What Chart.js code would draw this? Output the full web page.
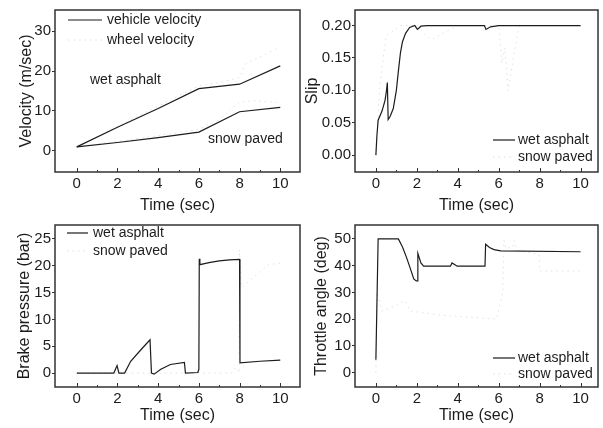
<!DOCTYPE html>
<html>
<head>
<meta charset="utf-8">
<script src="https://cdn.jsdelivr.net/npm/chart.js@4.4.0/dist/chart.umd.min.js"></script>
<style>
  body { margin: 0; background: #fff; }
  .panel { position: absolute; }
</style>
</head>
<body>
<div class="panel" style="left:0;top:0"><canvas id="velChart" width="301" height="215"></canvas></div>
<div class="panel" style="left:300px;top:0"><canvas id="slipChart" width="303" height="215"></canvas></div>
<div class="panel" style="left:0;top:215px"><canvas id="brakeChart" width="301" height="213"></canvas></div>
<div class="panel" style="left:300px;top:215px"><canvas id="throttleChart" width="303" height="213"></canvas></div>
<script>
// shared x axis
const xTicks = [0, 2, 4, 6, 8, 10];

// velocity (m/sec)
const velTime = [0, 2, 4, 6, 8, 10];
const vehicleWet = [1, 5.9, 10.6, 15.6, 16.7, 21.3];
const vehicleSnow = [1, 2.1, 3.3, 4.7, 9.8, 10.9];
const wheelWetTime = [0, 2, 4, 6, 7, 8, 8.3, 9.3, 10];
const wheelWet = [1, 6.1, 11.2, 16.3, 17.1, 18.4, 21.8, 24.3, 26];
const wheelSnowTime = [0, 2, 4, 6, 7, 8, 8.7, 10];
const wheelSnow = [1, 2.4, 3.8, 5.4, 7.8, 12.2, 12.6, 12.1];
const velTicks = [0, 10, 20, 30];

// slip
const slipWetTime = [0, 0.05, 0.11, 0.3, 0.45, 0.52, 0.56, 0.6, 0.7, 0.85, 1.0, 1.1, 1.2, 1.3, 1.45, 1.65, 1.9, 2.03, 2.2, 2.5, 5.3, 5.38, 5.6, 6, 10];
const slipWet = [0, 0.03, 0.054, 0.068, 0.085, 0.1, 0.112, 0.055, 0.06, 0.072, 0.1, 0.13, 0.158, 0.175, 0.188, 0.197, 0.2, 0.194, 0.199, 0.2, 0.2, 0.194, 0.198, 0.2, 0.2];
const slipSnowTime = [0, 0.2, 0.5, 1.2, 2, 2.7, 4, 6, 6.16, 6.3, 6.46, 6.75, 7, 10];
const slipSnow = [0, 0.111, 0.184, 0.2, 0.2, 0.178, 0.2, 0.2, 0.142, 0.166, 0.099, 0.157, 0.2, 0.2];
const slipTicks = [0, 0.05, 0.10, 0.15, 0.20];

// brake pressure (bar)
const brakeWetTime = [0, 1.82, 1.98, 2.07, 2.35, 2.65, 3.14, 3.6, 3.67, 3.8, 4.13, 4.6, 5.29, 5.34, 5.95, 6.0, 6.02, 6.05, 6.5, 7, 7.5, 8.0, 8.02, 9, 10];
const brakeWet = [0, 0, 1.4, 0, 0, 2.2, 4.3, 6.2, 0, -0.2, 0.7, 1.6, 2.0, 0, 0.1, 0.7, 21.3, 20.2, 20.6, 20.9, 21.1, 21.2, 1.9, 2.2, 2.4];
const brakeSnowTime = [0, 7.6, 7.8, 7.98, 8.0, 8.1, 8.76, 9.42, 10];
const brakeSnow = [0, 0, 1.0, 0, 23, 16, 18.1, 20.2, 20.5];
const brakeTicks = [0, 5, 10, 15, 20, 25];

// throttle angle (deg)
const throttleWetTime = [0, 0.11, 1.1, 1.3, 1.5, 1.7, 1.85, 1.97, 2.02, 2.05, 2.2, 2.33, 3.64, 3.72, 3.97, 5.33, 5.36, 5.55, 5.77, 6.1, 10];
const throttleWet = [4.8, 50, 50, 47, 43, 38.5, 35, 34.3, 34.3, 44.6, 41, 39.8, 39.8, 41, 39.8, 39.8, 48, 46.8, 46, 45.5, 45.2];
const throttleSnowTime = [0, 0.05, 0.3, 1.0, 1.4, 1.7, 3.2, 5.9, 6.2, 6.26, 6.34, 6.7, 6.75, 6.9, 7.98, 8.0, 10];
const throttleSnow = [0, 30, 23, 25, 27, 23, 21.4, 20, 30, 49.4, 46.4, 47, 49.4, 45.8, 44, 38, 38];
const throttleTicks = [0, 10, 20, 30, 40, 50];

const FONT = '"Liberation Sans", Arial, sans-serif';
const INK = '#1c1c1c';
const FAINT = '#e0e0e0';

function pts(xs, ys) {
  return xs.map((x, i) => ({ x: x, y: ys[i] }));
}

function solidLine(label, xs, ys) {
  return { label: label, data: pts(xs, ys), borderColor: INK, borderWidth: 1.2, pointRadius: 0 };
}

function dottedLine(label, xs, ys) {
  return { label: label, data: pts(xs, ys), borderColor: FAINT, borderWidth: 1, borderDash: [1.5, 4], pointRadius: 0 };
}

function makeChart(id, cfg) {
  const ctx = document.getElementById(id).getContext('2d');
  const canvasH = ctx.canvas.height;

  // box frame, inward x ticks, in-plot legend and labels
  const decor = {
    id: 'decor',
    afterDraw(chart) {
      const c = chart.ctx;
      const a = chart.chartArea;
      const xs = chart.scales.x;
      c.save();
      c.strokeStyle = '#333';
      c.lineWidth = 1.5;
      c.strokeRect(a.left, a.top, a.right - a.left, a.bottom - a.top);
      c.lineWidth = 1;
      for (let v = 0; v <= 10; v++) {
        const px = Math.round(xs.getPixelForValue(v)) + 0.5;
        c.beginPath();
        c.moveTo(px, a.bottom);
        c.lineTo(px, a.bottom - (v % 2 === 0 ? 4 : 2));
        c.stroke();
      }
      c.font = '14px ' + FONT;
      c.fillStyle = INK;
      c.textBaseline = 'middle';
      cfg.legend.forEach(item => {
        c.beginPath();
        c.strokeStyle = item.dotted ? FAINT : INK;
        c.lineWidth = item.dotted ? 1 : 1.2;
        c.setLineDash(item.dotted ? [1.5, 4] : []);
        c.moveTo(item.x0, item.y);
        c.lineTo(item.x1, item.y);
        c.stroke();
        c.setLineDash([]);
        c.fillText(item.text, item.tx, item.y);
      });
      (cfg.notes || []).forEach(n => c.fillText(n.text, n.x, n.y));
      c.restore();
    }
  };

  new Chart(ctx, {
    type: 'line',
    data: { datasets: cfg.datasets },
    options: {
      responsive: false,
      animation: false,
      layout: { padding: { top: cfg.top, right: cfg.right, left: 0, bottom: 0 } },
      plugins: { legend: { display: false }, tooltip: { enabled: false } },
      scales: {
        x: {
          type: 'linear',
          min: cfg.xMin,
          max: cfg.xMax,
          afterBuildTicks: s => { s.ticks = xTicks.map(v => ({ value: v })); },
          afterFit: s => { s.height = canvasH - cfg.bottom; },
          grid: { display: false, drawTicks: false },
          border: { display: false },
          ticks: { color: INK, font: { family: FONT, size: 15 }, padding: 3, maxRotation: 0 },
          title: { display: true, text: 'Time (sec)', color: INK, font: { family: FONT, size: 16 }, padding: { top: 0, bottom: cfg.xTitlePad } }
        },
        y: {
          min: cfg.yMin,
          max: cfg.yMax,
          afterBuildTicks: s => { s.ticks = cfg.yTicks.map(v => ({ value: v })); },
          afterFit: s => { s.width = 55; },
          grid: { drawOnChartArea: false, tickLength: 3, color: '#333' },
          border: { display: false },
          ticks: {
            color: INK, font: { family: FONT, size: 15 }, padding: 1,
            callback: v => cfg.yFmt ? cfg.yFmt(v) : v
          },
          title: { display: true, text: cfg.yTitle, color: INK, font: { family: FONT, size: 16 }, padding: { top: cfg.yTitlePad, bottom: 0 } }
        }
      }
    },
    plugins: [decor]
  });
}

window.onload = function () {
  makeChart('velChart', {
    datasets: [
      solidLine('vehicle velocity wet', velTime, vehicleWet),
      solidLine('vehicle velocity snow', velTime, vehicleSnow),
      dottedLine('wheel velocity wet', wheelWetTime, wheelWet),
      dottedLine('wheel velocity snow', wheelSnowTime, wheelSnow)
    ],
    xMin: -1.07, xMax: 10.97, yMin: -5.3, yMax: 35.3, yTicks: velTicks,
    yTitle: 'Velocity (m/sec)', top: 5, right: 1, bottom: 172, xTitlePad: 0, yTitlePad: 17,
    legend: [
      { text: 'vehicle velocity', x0: 68, x1: 102, tx: 107, y: 20 },
      { text: 'wheel velocity', x0: 68, x1: 102, tx: 107, y: 40, dotted: true }
    ],
    notes: [
      { text: 'wet asphalt', x: 90, y: 80 },
      { text: 'snow paved', x: 208, y: 139 }
    ]
  });

  makeChart('slipChart', {
    datasets: [
      solidLine('wet asphalt', slipWetTime, slipWet),
      dottedLine('snow paved', slipSnowTime, slipSnow)
    ],
    xMin: -1.02, xMax: 10.85, yMin: -0.026, yMax: 0.224, yTicks: slipTicks,
    yFmt: v => v.toFixed(2),
    yTitle: 'Slip', top: 5, right: 5, bottom: 172, xTitlePad: 0, yTitlePad: 3,
    legend: [
      { text: 'wet asphalt', x0: 193, x1: 215, tx: 218, y: 140 },
      { text: 'snow paved', x0: 193, x1: 215, tx: 218, y: 157, dotted: true }
    ]
  });

  makeChart('brakeChart', {
    datasets: [
      solidLine('wet asphalt', brakeWetTime, brakeWet),
      dottedLine('snow paved', brakeSnowTime, brakeSnow)
    ],
    xMin: -1.07, xMax: 10.97, yMin: -2.6, yMax: 27.6, yTicks: brakeTicks,
    yTitle: 'Brake pressure (bar)', top: 4, right: 1, bottom: 172, xTitlePad: 3, yTitlePad: 15,
    legend: [
      { text: 'wet asphalt', x0: 67, x1: 88, tx: 93, y: 18 },
      { text: 'snow paved', x0: 67, x1: 88, tx: 93, y: 36, dotted: true }
    ]
  });

  makeChart('throttleChart', {
    datasets: [
      solidLine('wet asphalt', throttleWetTime, throttleWet),
      dottedLine('snow paved', throttleSnowTime, throttleSnow)
    ],
    xMin: -1.02, xMax: 10.85, yMin: -5.4, yMax: 55.2, yTicks: throttleTicks,
    yTitle: 'Throttle angle (deg)', top: 4, right: 5, bottom: 172, xTitlePad: 3, yTitlePad: 12,
    legend: [
      { text: 'wet asphalt', x0: 193, x1: 215, tx: 218, y: 143 },
      { text: 'snow paved', x0: 193, x1: 215, tx: 218, y: 159, dotted: true }
    ]
  });
};
</script>
</body>
</html>
